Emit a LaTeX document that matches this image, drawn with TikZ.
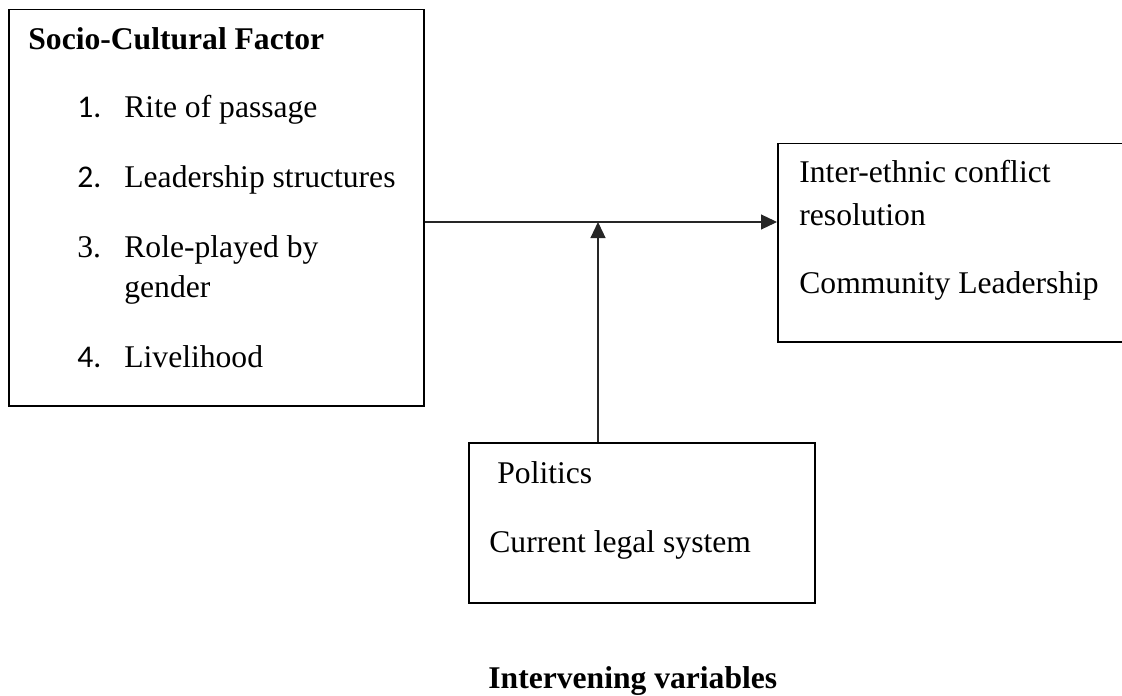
\documentclass[tikz,border=0pt]{standalone}
\usepackage{fontspec}
\setmainfont{Liberation Serif}
\newfontfamily\numfont{Carlito}
\usetikzlibrary{arrows.meta}
\tikzset{
  box/.style={draw=black, line width=0.75pt, rectangle, inner sep=0pt},
  txt/.style={inner sep=0pt, anchor=base west, font=\fontsize{15.8}{19}\selectfont},
  btxt/.style={txt, font=\fontsize{15.8}{19}\selectfont\bfseries},
  ntxt/.style={inner sep=0pt, anchor=base west, font=\fontsize{15.8}{19}\selectfont\numfont},
  arr/.style={draw=black!85, line width=0.6pt, -{Triangle[length=8pt,width=7.5pt]}},
}
\begin{document}
\begin{tikzpicture}[x=0.5pt,y=-0.5pt]
\useasboundingbox (0,0) rectangle (1122,695);
\clip (0,0) rectangle (1122,695);
% boxes
\node[box, anchor=north west, minimum width=207.5pt, minimum height=198pt] (left) at (8,9) {};
\node[box, anchor=north west, minimum width=185pt, minimum height=99pt] (right) at (777,143) {};
\node[box, anchor=north west, minimum width=173pt, minimum height=80pt] (pol) at (468,442) {};
% left box text
\node[btxt] (t0) at (28,50) {Socio-Cultural Factor};
\node[ntxt] (n1) at (77,118) {1.};
\node[txt] (t1) at (124,118) {Rite of passage};
\node[ntxt] (n2) at (77,188) {2.};
\node[txt] (t2) at (124,188) {Leadership structures};
\node[txt] (n3) at (77,257) {3.};
\node[txt] (t3) at (124,257) {Role-played by};
\node[txt] (t3b) at (124,297) {gender};
\node[ntxt] (n4) at (77,367) {4.};
\node[txt] (t4) at (124,367) {Livelihood};
% right box text
\node[txt] (r1) at (799,183) {Inter-ethnic conflict};
\node[txt] (r2) at (799,225) {resolution};
\node[txt] (r3) at (799,293) {Community Leadership};
% politics box text
\node[txt] (p1) at (497,483) {Politics};
\node[txt] (p2) at (489,552) {Current legal system};
% caption
\node[btxt] (cap) at (488,688) {Intervening variables};
% connectors
\coordinate (h) at (0,222);
\coordinate (v) at (598,0);
\draw[arr] (left.east |- h) -- (right.west |- h);
\coordinate (j) at (v |- h);
\draw[arr] (v |- pol.north) -- (j);
\end{tikzpicture}
\end{document}
